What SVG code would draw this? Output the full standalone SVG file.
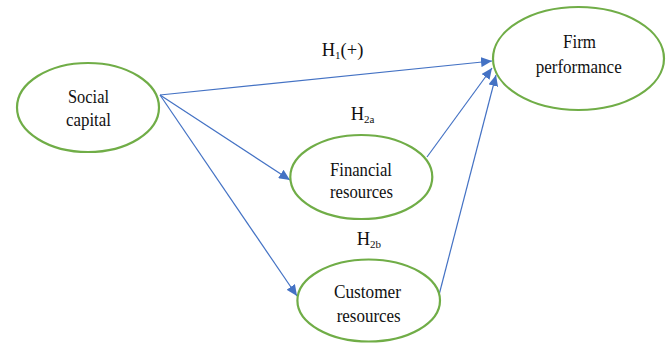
<svg xmlns="http://www.w3.org/2000/svg" width="671" height="345" viewBox="0 0 671 345">
  <style>
    .node ellipse { fill: #ffffff; stroke: #70AD47; stroke-width: 2.2; }
    .node text { font-family: "Liberation Serif", "Times New Roman", serif; font-size: 19px; fill: #111111; text-anchor: middle; }
    .edge { stroke: #4472C4; stroke-width: 1.2; fill: none; marker-end: url(#arrow); }
    .lbl { font-family: "Liberation Serif", "Times New Roman", serif; font-size: 18.5px; fill: #111111; }
    .sub { font-size: 11px; }
  </style>
  <defs>
    <marker id="arrow" markerUnits="userSpaceOnUse" markerWidth="12" markerHeight="10" refX="11" refY="5" orient="auto">
      <path d="M0,0 L11,5 L0,10 Z" fill="#4472C4"/>
    </marker>
  </defs>
  <rect width="671" height="345" fill="#ffffff"/>

  <g id="connectors">
    <line class="edge" x1="160" y1="95" x2="492" y2="61"/>
    <line class="edge" x1="160" y1="95" x2="290" y2="180"/>
    <line class="edge" x1="160" y1="95" x2="297" y2="296"/>
    <line class="edge" x1="427" y1="157" x2="492" y2="68"/>
    <line class="edge" x1="439" y1="295" x2="496" y2="75"/>
  </g>

  <g id="social-capital" class="node">
    <ellipse cx="88" cy="107.5" rx="71" ry="44.5"/>
    <text x="88.5" y="103" textLength="41" lengthAdjust="spacingAndGlyphs">Social</text>
    <text x="88.5" y="126" textLength="45" lengthAdjust="spacingAndGlyphs">capital</text>
  </g>

  <g id="firm-performance" class="node">
    <ellipse cx="578.5" cy="58.5" rx="85.5" ry="51.5"/>
    <text x="579.5" y="48" textLength="33" lengthAdjust="spacingAndGlyphs">Firm</text>
    <text x="578.7" y="72.5" textLength="86" lengthAdjust="spacingAndGlyphs">performance</text>
  </g>

  <g id="financial-resources" class="node">
    <ellipse cx="361.3" cy="177" rx="71" ry="42"/>
    <text x="361" y="175.7" textLength="62" lengthAdjust="spacingAndGlyphs">Financial</text>
    <text x="361.5" y="198.3" textLength="63" lengthAdjust="spacingAndGlyphs">resources</text>
  </g>

  <g id="customer-resources" class="node">
    <ellipse cx="368.7" cy="300.5" rx="71.3" ry="41"/>
    <text x="367.5" y="298.3" textLength="67" lengthAdjust="spacingAndGlyphs">Customer</text>
    <text x="368.7" y="321.7" textLength="64" lengthAdjust="spacingAndGlyphs">resources</text>
  </g>

  <g id="labels">
    <text class="lbl" x="321.7" y="56">H<tspan class="sub" dy="2.5">1</tspan><tspan dy="-2.5">(+)</tspan></text>
    <text class="lbl" x="350.7" y="120">H<tspan class="sub" dy="3">2a</tspan></text>
    <text class="lbl" x="356.7" y="245">H<tspan class="sub" dy="3">2b</tspan></text>
  </g>
</svg>
